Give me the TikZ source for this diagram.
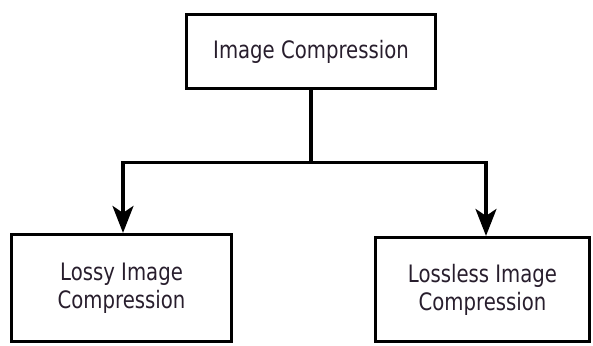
\documentclass[tikz,border=0pt]{standalone}
\usepackage{fontspec}
\setmainfont{DejaVu Sans}[FakeStretch=0.82]
\usetikzlibrary{arrows.meta}
\definecolor{txt}{RGB}{40,30,45}
\begin{document}
\begin{tikzpicture}[x=1pt,y=-1pt,
  box/.style={draw=black,line width=3.2pt,fill=white,inner sep=0pt,
    font=\fontsize{24}{28}\selectfont,text=txt,align=center},
  conn/.style={draw=black,line width=3.2pt},
  arr/.style={conn,-{Stealth[length=27pt,width=21pt,inset=7pt]}}]
\useasboundingbox (0,0) rectangle (593,345);
\fill[white] (0,0) rectangle (593,345);
\node[box,minimum width=249pt,minimum height=74pt] (top) at (311,51.5) {Image Compression};
\node[box,minimum width=220pt,minimum height=107pt] (left) at (121.5,288) {Lossy Image\\Compression};
\node[box,minimum width=214pt,minimum height=104pt] (right) at (482.5,289.5) {Lossless Image\\Compression};
\coordinate (bm) at (311,162.5);
\coordinate (bl) at (123,162.5);
\coordinate (br) at (486,162.5);
\draw[conn] (top.south) -- (bm);
\draw[conn,line cap=rect] (bl) -- (br);
\draw[arr] (bl) -- (bl |- left.north);
\draw[arr] (br) -- (br |- right.north);
\end{tikzpicture}
\end{document}
